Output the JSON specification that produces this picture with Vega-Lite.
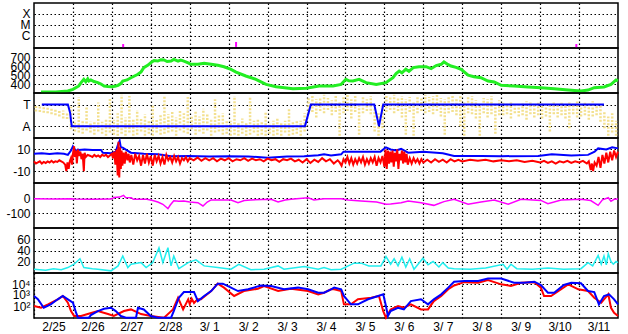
{
"$schema": "https://vega.github.io/schema/vega-lite/v6.json",
"padding": {"left": 3, "top": 2, "right": 5, "bottom": 0},
"spacing": 0,
"bounds": "flush",
"config": {
  "view": {"stroke": "black", "strokeWidth": 1.5},
  "axis": {"labelFont": "Liberation Sans", "labelFontSize": 12, "labelColor": "black", "ticks": false, "domain": false, "title": null, "grid": true, "gridColor": "black", "gridDash": [1.5, 2.5], "gridWidth": 1.2, "gridOpacity": 1, "labelOverlap": false},
  "axisY": {"minExtent": 30, "maxExtent": 30, "labelPadding": 4, "labelOverlap": false},
  "line": {"clip": true, "strokeJoin": "miter"},
  "rule": {"clip": true}
},
"datasets": {
  "flares": [{"d": 2.29, "lo": -0.1, "hi": 0.26}, {"d": 5.19, "lo": 0.0, "hi": 0.45}, {"d": 13.93, "lo": -0.1, "hi": 0.26}],
  "green": [{"d":0.18,"v":316},{"d":0.56,"v":316},{"d":0.87,"v":327},{"d":1.0,"v":346},{"d":1.15,"v":383},{"d":1.21,"v":420},{"d":1.28,"v":457},{"d":1.33,"v":430},{"d":1.38,"v":462},{"d":1.41,"v":438},{"d":1.46,"v":450},{"d":1.54,"v":432},{"d":1.64,"v":420},{"d":1.72,"v":405},{"d":1.8,"v":383},{"d":1.9,"v":378},{"d":1.98,"v":375},{"d":2.08,"v":380},{"d":2.16,"v":390},{"d":2.23,"v":410},{"d":2.28,"v":438},{"d":2.39,"v":450},{"d":2.49,"v":475},{"d":2.67,"v":513},{"d":2.75,"v":540},{"d":2.82,"v":587},{"d":2.93,"v":615},{"d":3.0,"v":642},{"d":3.08,"v":665},{"d":3.18,"v":660},{"d":3.26,"v":675},{"d":3.34,"v":672},{"d":3.42,"v":655},{"d":3.52,"v":660},{"d":3.59,"v":678},{"d":3.7,"v":659},{"d":3.77,"v":670},{"d":3.85,"v":660},{"d":3.96,"v":640},{"d":4.03,"v":624},{"d":4.21,"v":624},{"d":4.37,"v":635},{"d":4.55,"v":624},{"d":4.72,"v":613},{"d":4.88,"v":597},{"d":5.06,"v":568},{"d":5.19,"v":538},{"d":5.44,"v":494},{"d":5.7,"v":457},{"d":5.96,"v":401},{"d":6.22,"v":375},{"d":6.65,"v":353},{"d":6.99,"v":357},{"d":7.32,"v":383},{"d":7.68,"v":383},{"d":7.89,"v":401},{"d":8.01,"v":457},{"d":8.09,"v":440},{"d":8.19,"v":438},{"d":8.35,"v":457},{"d":8.53,"v":420},{"d":8.79,"v":401},{"d":9.04,"v":420},{"d":9.22,"v":475},{"d":9.3,"v":520},{"d":9.38,"v":549},{"d":9.45,"v":530},{"d":9.55,"v":570},{"d":9.63,"v":545},{"d":9.74,"v":587},{"d":9.89,"v":597},{"d":10.07,"v":597},{"d":10.2,"v":575},{"d":10.33,"v":610},{"d":10.46,"v":624},{"d":10.53,"v":650},{"d":10.64,"v":620},{"d":10.71,"v":605},{"d":10.84,"v":590},{"d":10.97,"v":568},{"d":11.15,"v":503},{"d":11.3,"v":486},{"d":11.48,"v":475},{"d":11.66,"v":438},{"d":11.82,"v":427},{"d":12.0,"v":390},{"d":12.33,"v":383},{"d":12.69,"v":372},{"d":13.02,"v":364},{"d":13.36,"v":353},{"d":13.72,"v":338},{"d":14.05,"v":327},{"d":14.23,"v":338},{"d":14.39,"v":364},{"d":14.64,"v":372},{"d":14.82,"v":401},{"d":14.95,"v":450},{"d":15.0,"v":440}],
  "yel": [{"d":0.05,"lo":0.35,"hi":1.0},{"d":0.15,"lo":0.3,"hi":0.85},{"d":0.25,"lo":0.25,"hi":0.9},{"d":0.35,"lo":0.2,"hi":0.75},{"d":0.45,"lo":0.1,"hi":0.7},{"d":0.55,"lo":0.0,"hi":0.6},{"d":0.65,"lo":-0.1,"hi":0.5},{"d":0.75,"lo":-0.3,"hi":0.45},{"d":0.85,"lo":-0.35,"hi":0.3},{"d":0.95,"lo":-1.3,"hi":0.8},
    {"d":1.05,"lo":-1.5,"hi":-0.5},{"d":1.15,"lo":-1.6,"hi":1.7},{"d":1.25,"lo":-1.7,"hi":-0.4},{"d":1.35,"lo":-1.4,"hi":0.8},{"d":1.45,"lo":-1.6,"hi":-0.6},{"d":1.55,"lo":-1.8,"hi":-0.5},{"d":1.65,"lo":-1.5,"hi":1.2},{"d":1.75,"lo":-1.7,"hi":-0.6},{"d":1.85,"lo":-1.9,"hi":-0.3},{"d":1.95,"lo":-1.6,"hi":1.6},
    {"d":2.05,"lo":-1.8,"hi":-0.4},{"d":2.15,"lo":-1.9,"hi":0.2},{"d":2.25,"lo":-1.7,"hi":1.9},{"d":2.35,"lo":-1.9,"hi":-0.2},{"d":2.45,"lo":-1.6,"hi":1.8},{"d":2.55,"lo":-1.9,"hi":-0.3},{"d":2.65,"lo":-1.8,"hi":0.5},{"d":2.75,"lo":-1.5,"hi":-0.2},{"d":2.85,"lo":-1.9,"hi":0.1},{"d":2.95,"lo":-1.7,"hi":-0.5},{"d":3.05,"lo":-1.9,"hi":0.9},{"d":3.15,"lo":-1.6,"hi":-0.3},{"d":3.25,"lo":-1.8,"hi":0.0},
    {"d":3.35,"lo":-1.7,"hi":1.8},{"d":3.45,"lo":-1.6,"hi":0.1},{"d":3.55,"lo":-1.5,"hi":0.3},{"d":3.65,"lo":-1.9,"hi":-0.2},{"d":3.75,"lo":-1.4,"hi":0.5},{"d":3.85,"lo":-1.6,"hi":0.2},{"d":3.95,"lo":-1.7,"hi":1.7},{"d":4.05,"lo":-1.3,"hi":0.0},{"d":4.15,"lo":-1.8,"hi":0.4},{"d":4.25,"lo":-1.5,"hi":-0.1},{"d":4.35,"lo":-1.7,"hi":0.6},{"d":4.45,"lo":-1.4,"hi":0.1},{"d":4.55,"lo":-1.9,"hi":-0.3},{"d":4.65,"lo":-1.6,"hi":1.5},{"d":4.75,"lo":-1.5,"hi":0.0},{"d":4.85,"lo":-1.8,"hi":0.2},{"d":4.95,"lo":-1.7,"hi":-0.4},
    {"d":5.05,"lo":-1.9,"hi":-0.5},{"d":5.15,"lo":-1.8,"hi":1.8},{"d":5.25,"lo":-1.9,"hi":-0.6},{"d":5.35,"lo":-1.7,"hi":-0.3},{"d":5.45,"lo":-1.9,"hi":-0.7},{"d":5.55,"lo":-1.8,"hi":1.7},{"d":5.65,"lo":-1.6,"hi":-0.5},{"d":5.75,"lo":-1.9,"hi":-0.4},{"d":5.85,"lo":-1.8,"hi":-0.6},{"d":5.95,"lo":-1.9,"hi":0.3},{"d":6.05,"lo":-1.7,"hi":-0.7},{"d":6.15,"lo":-1.9,"hi":-0.5},{"d":6.25,"lo":-1.8,"hi":-0.3},{"d":6.35,"lo":-1.9,"hi":-0.6},{"d":6.45,"lo":-1.6,"hi":-0.5},{"d":6.55,"lo":-1.9,"hi":0.6},{"d":6.65,"lo":-1.8,"hi":-0.6},{"d":6.75,"lo":-1.7,"hi":-0.4},{"d":6.85,"lo":-1.9,"hi":-0.5},{"d":6.95,"lo":-1.5,"hi":0.2},
    {"d":7.05,"lo":0.1,"hi":1.6},{"d":7.15,"lo":0.3,"hi":1.8},{"d":7.25,"lo":-0.2,"hi":1.5},{"d":7.35,"lo":0.4,"hi":1.7},{"d":7.45,"lo":0.2,"hi":1.9},{"d":7.55,"lo":0.5,"hi":1.6},{"d":7.65,"lo":0.0,"hi":1.4},{"d":7.75,"lo":0.3,"hi":1.8},{"d":7.85,"lo":-1.9,"hi":1.2},{"d":7.95,"lo":0.2,"hi":1.7},{"d":8.05,"lo":0.4,"hi":1.9},{"d":8.15,"lo":-0.3,"hi":1.5},{"d":8.25,"lo":0.3,"hi":1.8},{"d":8.35,"lo":-1.8,"hi":1.0},{"d":8.45,"lo":0.2,"hi":1.7},{"d":8.55,"lo":0.4,"hi":1.5},{"d":8.65,"lo":0.1,"hi":1.8},
    {"d":8.75,"lo":-1.5,"hi":0.8},{"d":8.85,"lo":-1.9,"hi":0.2},{"d":8.95,"lo":-1.2,"hi":1.1},
    {"d":9.05,"lo":0.3,"hi":1.8},{"d":9.15,"lo":0.5,"hi":1.7},{"d":9.25,"lo":0.2,"hi":1.9},{"d":9.35,"lo":0.4,"hi":1.6},{"d":9.45,"lo":-0.2,"hi":1.8},{"d":9.55,"lo":-1.8,"hi":1.5},{"d":9.65,"lo":0.3,"hi":1.7},{"d":9.75,"lo":-1.9,"hi":1.2},{"d":9.85,"lo":0.2,"hi":1.8},{"d":9.95,"lo":0.4,"hi":1.6},
    {"d":10.05,"lo":0.2,"hi":1.9},{"d":10.15,"lo":0.3,"hi":1.7},{"d":10.25,"lo":0.1,"hi":1.8},{"d":10.35,"lo":0.4,"hi":1.9},{"d":10.45,"lo":-0.1,"hi":1.6},{"d":10.55,"lo":-1.8,"hi":1.5},{"d":10.65,"lo":0.2,"hi":1.7},{"d":10.75,"lo":0.3,"hi":1.9},{"d":10.85,"lo":0.0,"hi":1.6},{"d":10.95,"lo":-1.0,"hi":1.8},{"d":11.05,"lo":-1.9,"hi":1.2},{"d":11.15,"lo":0.2,"hi":1.7},{"d":11.25,"lo":0.1,"hi":1.8},{"d":11.35,"lo":-0.3,"hi":1.4},{"d":11.45,"lo":-1.9,"hi":1.0},{"d":11.55,"lo":0.2,"hi":1.6},{"d":11.65,"lo":-0.2,"hi":1.5},{"d":11.75,"lo":0.1,"hi":1.8},{"d":11.85,"lo":-1.7,"hi":1.2},{"d":11.95,"lo":0.0,"hi":1.4},
    {"d":12.05,"lo":0.0,"hi":1.3},{"d":12.15,"lo":0.1,"hi":1.1},{"d":12.25,"lo":-0.3,"hi":1.3},{"d":12.35,"lo":0.2,"hi":1.0},{"d":12.45,"lo":-0.1,"hi":1.2},{"d":12.55,"lo":0.0,"hi":1.1},{"d":12.65,"lo":-0.4,"hi":1.3},{"d":12.75,"lo":0.1,"hi":1.2},{"d":12.85,"lo":-0.2,"hi":1.0},{"d":12.95,"lo":0.0,"hi":1.3},{"d":13.05,"lo":-0.3,"hi":1.1},{"d":13.15,"lo":-0.1,"hi":1.2},{"d":13.25,"lo":-1.5,"hi":1.0},{"d":13.35,"lo":0.1,"hi":1.2},{"d":13.45,"lo":-0.2,"hi":1.1},{"d":13.55,"lo":0.0,"hi":1.3},{"d":13.65,"lo":-0.3,"hi":1.0},{"d":13.75,"lo":-1.2,"hi":1.2},{"d":13.85,"lo":0.1,"hi":1.1},{"d":13.95,"lo":-0.2,"hi":1.3},{"d":14.05,"lo":-0.1,"hi":1.0},{"d":14.15,"lo":0.0,"hi":1.2},{"d":14.25,"lo":-0.4,"hi":1.1},{"d":14.35,"lo":-0.1,"hi":1.3},{"d":14.45,"lo":0.0,"hi":1.0},{"d":14.55,"lo":-0.6,"hi":0.9},{"d":14.65,"lo":-1.2,"hi":0.3},{"d":14.75,"lo":-1.9,"hi":-0.1},{"d":14.85,"lo":-1.6,"hi":0.2},{"d":14.95,"lo":-1.9,"hi":-0.5}],
  "ta": [{"d":0.2,"v":1},{"d":0.87,"v":1},{"d":0.9,"v":0.6},{"d":0.93,"v":0.2},{"d":0.95,"v":-0.5},{"d":0.97,"v":-1},{"d":6.96,"v":-1},{"d":7.11,"v":1},{"d":8.74,"v":1},{"d":8.86,"v":-1},{"d":8.97,"v":1},{"d":14.64,"v":1}],
  "bt": [{"d":0,"v":6},{"d":0.2,"v":6.5},{"d":0.4,"v":5.8},{"d":0.6,"v":6.5},{"d":0.77,"v":6},{"d":0.87,"v":5},{"d":0.95,"v":9},{"d":1.0,"v":12.8},{"d":1.03,"v":11},{"d":1.08,"v":8.6},{"d":1.13,"v":10},{"d":1.15,"v":9.5},{"d":1.3,"v":10},{"d":1.5,"v":9.5},{"d":1.72,"v":9.5},{"d":1.77,"v":7},{"d":1.98,"v":6.5},{"d":2.1,"v":8},{"d":2.16,"v":14.8},{"d":2.2,"v":18},{"d":2.23,"v":12},{"d":2.28,"v":11.7},{"d":2.4,"v":9},{"d":2.49,"v":7},{"d":2.82,"v":6},{"d":3.18,"v":5.5},{"d":3.52,"v":3.7},{"d":3.96,"v":4},{"d":4.5,"v":3.5},{"d":5.0,"v":3.7},{"d":5.5,"v":3.5},{"d":6.0,"v":2.4},{"d":6.5,"v":3.5},{"d":6.94,"v":3.7},{"d":7.3,"v":4.6},{"d":7.45,"v":5.5},{"d":7.63,"v":4.5},{"d":7.89,"v":5.5},{"d":7.95,"v":8},{"d":8.4,"v":8},{"d":8.9,"v":8},{"d":9.04,"v":12},{"d":9.16,"v":10},{"d":9.3,"v":9},{"d":9.43,"v":10.5},{"d":9.61,"v":7},{"d":10.0,"v":8},{"d":10.5,"v":6.5},{"d":10.79,"v":4},{"d":11.5,"v":4},{"d":12.0,"v":3.8},{"d":12.95,"v":4},{"d":13.3,"v":5.5},{"d":13.8,"v":4.5},{"d":14.23,"v":5},{"d":14.4,"v":8},{"d":14.49,"v":11},{"d":14.7,"v":10},{"d":14.85,"v":12},{"d":15.0,"v":11}],
  "bz": [{"d":0,"v":-1},{"d":0.05,"v":-3},{"d":0.1,"v":-2},{"d":0.15,"v":-1},{"d":0.2,"v":-3},{"d":0.25,"v":-1.5},{"d":0.3,"v":-2.5},{"d":0.35,"v":-1},{"d":0.4,"v":-2},{"d":0.45,"v":-0.5},{"d":0.5,"v":-2},{"d":0.55,"v":-1},{"d":0.6,"v":-1.5},{"d":0.65,"v":0},{"d":0.7,"v":-1},{"d":0.75,"v":-2},{"d":0.8,"v":-4},{"d":0.83,"v":-10},{"d":0.86,"v":-2},{"d":0.89,"v":-8},{"d":0.92,"v":-1},{"d":0.95,"v":2},{"d":0.98,"v":-4},{"d":1.0,"v":6},{"d":1.03,"v":13},{"d":1.05,"v":3},{"d":1.08,"v":9},{"d":1.1,"v":-3},{"d":1.13,"v":10},{"d":1.16,"v":4},{"d":1.19,"v":8},{"d":1.22,"v":1},{"d":1.25,"v":6},{"d":1.28,"v":-10},{"d":1.3,"v":7},{"d":1.33,"v":3},{"d":1.38,"v":5},{"d":1.45,"v":4},{"d":1.5,"v":3},{"d":1.55,"v":5},{"d":1.6,"v":3.5},{"d":1.65,"v":4.5},{"d":1.7,"v":3},{"d":1.75,"v":5},{"d":1.8,"v":4},{"d":1.85,"v":5},{"d":1.9,"v":3},{"d":1.95,"v":4.5},{"d":2.0,"v":6},{"d":2.03,"v":2},{"d":2.06,"v":8},{"d":2.09,"v":-4},{"d":2.12,"v":10},{"d":2.15,"v":-14},{"d":2.17,"v":17},{"d":2.19,"v":-16},{"d":2.21,"v":12},{"d":2.23,"v":-8},{"d":2.25,"v":9},{"d":2.27,"v":-5},{"d":2.3,"v":7},{"d":2.33,"v":-3},{"d":2.36,"v":8},{"d":2.4,"v":0},{"d":2.43,"v":6},{"d":2.46,"v":-2},{"d":2.5,"v":5},{"d":2.55,"v":-4},{"d":2.6,"v":6},{"d":2.65,"v":0},{"d":2.7,"v":4},{"d":2.75,"v":-5},{"d":2.8,"v":5},{"d":2.85,"v":-3},{"d":2.9,"v":6},{"d":2.95,"v":-2},{"d":3.0,"v":4},{"d":3.05,"v":-5},{"d":3.1,"v":5},{"d":3.15,"v":-1},{"d":3.2,"v":4},{"d":3.25,"v":-3},{"d":3.3,"v":3},{"d":3.35,"v":-4},{"d":3.4,"v":5},{"d":3.45,"v":0},{"d":3.5,"v":3},{"d":3.55,"v":-2},{"d":3.6,"v":4},{"d":3.65,"v":-1},{"d":3.7,"v":3},{"d":3.75,"v":-3},{"d":3.8,"v":2},{"d":3.85,"v":0},{"d":3.9,"v":3},{"d":3.95,"v":-1},{"d":4.0,"v":2},{"d":4.1,"v":0},{"d":4.2,"v":2.5},{"d":4.3,"v":-0.5},{"d":4.4,"v":2},{"d":4.5,"v":0},{"d":4.6,"v":2},{"d":4.7,"v":-1},{"d":4.8,"v":1.5},{"d":4.9,"v":0},{"d":5.0,"v":2},{"d":5.1,"v":-1},{"d":5.2,"v":1},{"d":5.3,"v":0},{"d":5.4,"v":2},{"d":5.5,"v":-0.5},{"d":5.6,"v":1.5},{"d":5.7,"v":0},{"d":5.8,"v":1},{"d":5.9,"v":-1},{"d":6.0,"v":1.5},{"d":6.1,"v":0},{"d":6.2,"v":1},{"d":6.3,"v":-1.5},{"d":6.4,"v":1},{"d":6.5,"v":0},{"d":6.6,"v":1.5},{"d":6.7,"v":-1},{"d":6.8,"v":0.5},{"d":6.9,"v":-2},{"d":7.0,"v":1},{"d":7.1,"v":-2.5},{"d":7.2,"v":0.5},{"d":7.3,"v":-1.5},{"d":7.4,"v":2},{"d":7.5,"v":-1},{"d":7.6,"v":1},{"d":7.7,"v":-3},{"d":7.8,"v":0},{"d":7.85,"v":-2},{"d":7.9,"v":-5},{"d":7.95,"v":1},{"d":8.0,"v":-2},{"d":8.05,"v":3},{"d":8.1,"v":-3},{"d":8.15,"v":2},{"d":8.2,"v":-4},{"d":8.25,"v":1},{"d":8.3,"v":-3},{"d":8.35,"v":2},{"d":8.4,"v":-2},{"d":8.45,"v":3},{"d":8.5,"v":-4},{"d":8.55,"v":1},{"d":8.6,"v":-3},{"d":8.65,"v":2},{"d":8.7,"v":-2},{"d":8.75,"v":3},{"d":8.8,"v":-5},{"d":8.85,"v":2},{"d":8.9,"v":-2},{"d":8.95,"v":4},{"d":9.0,"v":-6},{"d":9.03,"v":10},{"d":9.06,"v":-8},{"d":9.09,"v":9},{"d":9.12,"v":-3},{"d":9.15,"v":8},{"d":9.18,"v":-2},{"d":9.21,"v":9},{"d":9.24,"v":-6},{"d":9.27,"v":7},{"d":9.3,"v":-1},{"d":9.33,"v":10},{"d":9.36,"v":-8},{"d":9.39,"v":6},{"d":9.42,"v":0},{"d":9.45,"v":9},{"d":9.48,"v":-3},{"d":9.51,"v":8},{"d":9.54,"v":-2},{"d":9.57,"v":6},{"d":9.6,"v":-4},{"d":9.65,"v":2},{"d":9.7,"v":-3},{"d":9.75,"v":2},{"d":9.8,"v":-2},{"d":9.85,"v":1},{"d":9.9,"v":-3},{"d":9.95,"v":1},{"d":10.0,"v":-2},{"d":10.1,"v":0.5},{"d":10.2,"v":-2},{"d":10.3,"v":1},{"d":10.4,"v":-1.5},{"d":10.5,"v":0.5},{"d":10.6,"v":-2},{"d":10.7,"v":1},{"d":10.8,"v":-1},{"d":10.9,"v":0.5},{"d":11.0,"v":-1},{"d":11.2,"v":0.5},{"d":11.4,"v":-0.5},{"d":11.6,"v":0.5},{"d":11.8,"v":-1},{"d":12.0,"v":0},{"d":12.2,"v":-1},{"d":12.4,"v":0},{"d":12.6,"v":-1.5},{"d":12.8,"v":-0.5},{"d":13.0,"v":-2},{"d":13.1,"v":-0.5},{"d":13.2,"v":-2.5},{"d":13.3,"v":-1},{"d":13.4,"v":-3},{"d":13.5,"v":-1},{"d":13.6,"v":-2},{"d":13.7,"v":-0.5},{"d":13.8,"v":-2.5},{"d":13.9,"v":-1},{"d":14.0,"v":-2},{"d":14.1,"v":-0.5},{"d":14.2,"v":-3},{"d":14.25,"v":-1},{"d":14.3,"v":-9},{"d":14.33,"v":-3},{"d":14.36,"v":-10},{"d":14.4,"v":-2},{"d":14.45,"v":-5},{"d":14.5,"v":3},{"d":14.55,"v":-7},{"d":14.6,"v":5},{"d":14.65,"v":-3},{"d":14.7,"v":7},{"d":14.75,"v":-2},{"d":14.8,"v":8},{"d":14.85,"v":0},{"d":14.9,"v":9},{"d":14.95,"v":3},{"d":15.0,"v":8}],
  "dst": [{"d":0,"v":-3},{"d":0.5,"v":-4},{"d":0.95,"v":-3},{"d":1.03,"v":-5},{"d":1.5,"v":-6},{"d":1.98,"v":-5},{"d":2.05,"v":5},{"d":2.2,"v":8},{"d":2.3,"v":20},{"d":2.35,"v":6},{"d":2.5,"v":4},{"d":2.55,"v":-7},{"d":2.9,"v":-7},{"d":3.05,"v":-15},{"d":3.18,"v":-25},{"d":3.31,"v":-40},{"d":3.4,"v":-60},{"d":3.44,"v":-69},{"d":3.5,"v":-45},{"d":3.59,"v":-16},{"d":3.72,"v":-20},{"d":3.85,"v":-18},{"d":4.0,"v":-25},{"d":4.21,"v":-29},{"d":4.34,"v":-51},{"d":4.45,"v":-25},{"d":4.55,"v":-11},{"d":5.06,"v":-11},{"d":5.24,"v":-29},{"d":5.4,"v":-15},{"d":5.57,"v":-11},{"d":6.09,"v":-7},{"d":6.27,"v":-24},{"d":6.45,"v":-12},{"d":6.6,"v":-7},{"d":7.04,"v":4},{"d":7.19,"v":-11},{"d":7.45,"v":-3},{"d":7.89,"v":-3},{"d":8.07,"v":-11},{"d":8.4,"v":-18},{"d":8.8,"v":-25},{"d":9.04,"v":-40},{"d":9.16,"v":-38},{"d":9.43,"v":-29},{"d":9.61,"v":-18},{"d":9.94,"v":-29},{"d":10.27,"v":-47},{"d":10.4,"v":-35},{"d":10.53,"v":-22},{"d":10.79,"v":-7},{"d":11.15,"v":-40},{"d":11.48,"v":-24},{"d":11.82,"v":-11},{"d":12.18,"v":-40},{"d":12.51,"v":-7},{"d":13.02,"v":-14},{"d":13.2,"v":-36},{"d":13.54,"v":-11},{"d":14.05,"v":-7},{"d":14.3,"v":-15},{"d":14.49,"v":-47},{"d":14.6,"v":-10},{"d":14.75,"v":4},{"d":14.82,"v":-20},{"d":14.9,"v":-7},{"d":15.0,"v":-5}],
  "cy": [{"d":0,"v":6},{"d":0.3,"v":4},{"d":0.5,"v":7},{"d":0.7,"v":5},{"d":0.87,"v":9},{"d":1.03,"v":15},{"d":1.18,"v":25},{"d":1.28,"v":9},{"d":1.5,"v":7},{"d":1.64,"v":6},{"d":1.98,"v":3},{"d":2.16,"v":12},{"d":2.28,"v":30},{"d":2.41,"v":9},{"d":2.49,"v":15},{"d":2.75,"v":18},{"d":2.88,"v":9},{"d":3.05,"v":18},{"d":3.21,"v":45},{"d":3.31,"v":18},{"d":3.44,"v":45},{"d":3.52,"v":12},{"d":3.59,"v":30},{"d":3.72,"v":7},{"d":3.96,"v":18},{"d":4.16,"v":23},{"d":4.37,"v":12},{"d":4.72,"v":9},{"d":5.06,"v":6},{"d":5.26,"v":15},{"d":5.57,"v":5},{"d":5.91,"v":6},{"d":6.27,"v":12},{"d":6.42,"v":6},{"d":6.94,"v":11},{"d":7.3,"v":6},{"d":7.45,"v":9},{"d":7.63,"v":5},{"d":7.89,"v":6},{"d":8.22,"v":17},{"d":8.4,"v":17},{"d":8.6,"v":12},{"d":8.91,"v":12},{"d":9.04,"v":29},{"d":9.16,"v":15},{"d":9.25,"v":25},{"d":9.35,"v":12},{"d":9.45,"v":28},{"d":9.55,"v":10},{"d":9.65,"v":25},{"d":9.76,"v":6},{"d":9.99,"v":26},{"d":10.12,"v":14},{"d":10.25,"v":20},{"d":10.4,"v":10},{"d":10.5,"v":18},{"d":10.64,"v":8},{"d":10.79,"v":7},{"d":11.2,"v":6},{"d":11.6,"v":8},{"d":12.05,"v":15},{"d":12.15,"v":6},{"d":12.25,"v":15},{"d":12.4,"v":7},{"d":12.8,"v":6},{"d":13.2,"v":8},{"d":13.6,"v":6},{"d":14.05,"v":7},{"d":14.23,"v":18},{"d":14.35,"v":12},{"d":14.49,"v":31},{"d":14.57,"v":15},{"d":14.64,"v":30},{"d":14.7,"v":14},{"d":14.75,"v":34},{"d":14.82,"v":20},{"d":14.88,"v":15},{"d":14.95,"v":20},{"d":15.0,"v":18}],
  "eb": [{"d":0,"v":2.94},{"d":0.1,"v":2.64},{"d":0.25,"v":1.87},{"d":0.43,"v":2.18},{"d":0.61,"v":2.64},{"d":0.74,"v":2.94},{"d":0.87,"v":2.64},{"d":1.0,"v":2.33},{"d":1.08,"v":1.42},{"d":1.13,"v":0.97},{"d":1.41,"v":0.97},{"d":1.46,"v":1.2},{"d":1.64,"v":1.57},{"d":1.8,"v":1.78},{"d":1.98,"v":1.87},{"d":2.1,"v":1.57},{"d":2.23,"v":1.12},{"d":2.36,"v":0.97},{"d":2.62,"v":0.97},{"d":2.67,"v":1.87},{"d":2.82,"v":1.72},{"d":3.0,"v":1.12},{"d":3.18,"v":0.97},{"d":3.52,"v":0.97},{"d":3.59,"v":1.57},{"d":3.72,"v":2.78},{"d":3.85,"v":3.3},{"d":4.11,"v":3.3},{"d":4.21,"v":2.48},{"d":4.37,"v":2.94},{"d":4.55,"v":3.39},{"d":4.72,"v":4.06},{"d":4.85,"v":4.06},{"d":5.06,"v":3.7},{"d":5.24,"v":3.39},{"d":5.5,"v":3.55},{"d":5.83,"v":3.9},{"d":6.09,"v":3.85},{"d":6.42,"v":3.55},{"d":6.78,"v":3.7},{"d":7.04,"v":3.55},{"d":7.3,"v":3.24},{"d":7.45,"v":3.24},{"d":7.63,"v":3.55},{"d":7.71,"v":3.7},{"d":7.89,"v":3.55},{"d":7.96,"v":2.94},{"d":8.14,"v":2.18},{"d":8.32,"v":2.18},{"d":8.58,"v":2.64},{"d":8.84,"v":2.94},{"d":8.97,"v":3.09},{"d":9.04,"v":2.03},{"d":9.09,"v":1.12},{"d":9.16,"v":1.57},{"d":9.35,"v":1.87},{"d":9.5,"v":1.72},{"d":9.68,"v":2.48},{"d":9.94,"v":2.64},{"d":10.12,"v":2.18},{"d":10.27,"v":2.64},{"d":10.46,"v":3.09},{"d":10.64,"v":3.7},{"d":10.79,"v":4.24},{"d":11.05,"v":4.3},{"d":11.41,"v":4.3},{"d":11.66,"v":4.52},{"d":12.0,"v":4.52},{"d":12.33,"v":4.15},{"d":12.59,"v":4.15},{"d":12.85,"v":4.24},{"d":13.02,"v":3.94},{"d":13.2,"v":3.24},{"d":13.36,"v":3.24},{"d":13.61,"v":3.94},{"d":13.8,"v":4.15},{"d":14.05,"v":4.09},{"d":14.23,"v":3.39},{"d":14.39,"v":3.3},{"d":14.51,"v":2.18},{"d":14.64,"v":2.94},{"d":14.77,"v":3.09},{"d":14.9,"v":2.64},{"d":15.0,"v":2.18}],
  "er": [{"d":0,"v":2.03},{"d":0.18,"v":1.87},{"d":0.36,"v":2.18},{"d":0.61,"v":2.64},{"d":0.74,"v":2.94},{"d":0.87,"v":2.33},{"d":0.95,"v":1.57},{"d":1.03,"v":1.12},{"d":1.21,"v":1.12},{"d":1.38,"v":1.3},{"d":1.64,"v":1.57},{"d":1.9,"v":1.3},{"d":2.05,"v":1.12},{"d":2.31,"v":1.57},{"d":2.49,"v":1.72},{"d":2.75,"v":1.3},{"d":3.0,"v":1.12},{"d":3.34,"v":0.97},{"d":3.57,"v":1.72},{"d":3.7,"v":2.78},{"d":3.83,"v":1.72},{"d":3.96,"v":2.64},{"d":4.0,"v":2.2},{"d":4.05,"v":2.7},{"d":4.11,"v":2.3},{"d":4.2,"v":2.64},{"d":4.29,"v":2.64},{"d":4.55,"v":3.39},{"d":4.72,"v":4.06},{"d":4.88,"v":3.7},{"d":5.14,"v":2.94},{"d":5.39,"v":3.39},{"d":5.75,"v":3.6},{"d":5.91,"v":3.85},{"d":6.27,"v":3.39},{"d":6.6,"v":3.6},{"d":7.04,"v":3.39},{"d":7.3,"v":3.09},{"d":7.45,"v":3.24},{"d":7.63,"v":3.55},{"d":7.71,"v":3.55},{"d":7.89,"v":3.39},{"d":7.96,"v":2.18},{"d":8.14,"v":2.18},{"d":8.32,"v":2.64},{"d":8.66,"v":2.78},{"d":8.86,"v":2.94},{"d":8.97,"v":1.57},{"d":9.04,"v":0.97},{"d":9.16,"v":1.72},{"d":9.35,"v":2.03},{"d":9.5,"v":1.87},{"d":9.68,"v":2.18},{"d":9.94,"v":1.72},{"d":10.12,"v":1.72},{"d":10.27,"v":2.48},{"d":10.46,"v":2.94},{"d":10.64,"v":3.55},{"d":10.79,"v":3.9},{"d":11.05,"v":4.2},{"d":11.41,"v":4.15},{"d":11.66,"v":4.4},{"d":12.0,"v":4.0},{"d":12.25,"v":3.85},{"d":12.51,"v":4.15},{"d":12.85,"v":4.2},{"d":13.02,"v":3.7},{"d":13.1,"v":2.94},{"d":13.28,"v":2.94},{"d":13.54,"v":3.55},{"d":13.72,"v":4.0},{"d":13.98,"v":3.55},{"d":14.23,"v":3.39},{"d":14.39,"v":2.78},{"d":14.57,"v":2.33},{"d":14.75,"v":3.09},{"d":14.82,"v":1.87},{"d":14.9,"v":1.42},{"d":15.0,"v":1.12}],
  "decade": [{"d": 0, "v": 3, "t": "10\u00b3"}]
},
"vconcat": [
  {"width": 584, "height": 45,
   "layer": [
     {"data": {"name": "flares"}, "mark": {"type": "rule", "color": "#ff00ff", "strokeWidth": 2},
      "encoding": {
        "x": {"field": "d", "type": "quantitative", "scale": {"domain": [0, 15], "nice": false, "zero": false}, "axis": {"values": [1,2,3,4,5,6,7,8,9,10,11,12,13,14], "labels": false, "minExtent": 0, "maxExtent": 0}},
        "y": {"field": "lo", "type": "quantitative", "scale": {"domain": [-0.1, 4], "nice": false, "zero": false}, "axis": {"values": [1, 2, 3], "labelOverlap": false, "labelExpr": "datum.value == 3 ? 'X' : datum.value == 2 ? 'M' : 'C'"}},
        "y2": {"field": "hi"}}}
   ]},
  {"width": 584, "height": 45,
   "layer": [
     {"data": {"name": "green"}, "mark": {"type": "line", "color": "#22ee22", "strokeWidth": 3},
      "encoding": {
        "x": {"field": "d", "type": "quantitative", "scale": {"domain": [0, 15], "nice": false, "zero": false}, "axis": {"values": [1,2,3,4,5,6,7,8,9,10,11,12,13,14], "labels": false, "minExtent": 0, "maxExtent": 0}},
        "y": {"field": "v", "type": "quantitative", "scale": {"domain": [305, 805], "nice": false, "zero": false}, "axis": {"values": [400, 500, 600, 700], "labelOverlap": false}}}}
   ]},
  {"width": 584, "height": 45,
   "layer": [
     {"data": {"name": "yel"}, "mark": {"type": "rule", "color": "#f3e08e", "strokeWidth": 2.5, "strokeDash": [2, 1.5]},
      "encoding": {
        "x": {"field": "d", "type": "quantitative", "scale": {"domain": [0, 15], "nice": false, "zero": false}, "axis": {"values": [1,2,3,4,5,6,7,8,9,10,11,12,13,14], "labels": false, "minExtent": 0, "maxExtent": 0}},
        "y": {"field": "lo", "type": "quantitative", "scale": {"domain": [-2.1, 2.07], "nice": false, "zero": false}, "axis": {"values": [-1, 1], "labelOverlap": false, "labelExpr": "datum.value > 0 ? 'T' : 'A'"}},
        "y2": {"field": "hi"}}},
     {"mark": {"type": "rule", "color": "#b00000", "strokeWidth": 1.5}, "encoding": {"y": {"datum": 0}}},
     {"data": {"name": "ta"}, "mark": {"type": "line", "color": "#0000ff", "strokeWidth": 2},
      "encoding": {"x": {"field": "d", "type": "quantitative"}, "y": {"field": "v", "type": "quantitative"}}}
   ]},
  {"width": 584, "height": 45,
   "layer": [
     {"data": {"name": "bt"}, "mark": {"type": "line", "color": "#0000ff", "strokeWidth": 2},
      "encoding": {
        "x": {"field": "d", "type": "quantitative", "scale": {"domain": [0, 15], "nice": false, "zero": false}, "axis": {"values": [1,2,3,4,5,6,7,8,9,10,11,12,13,14], "labels": false, "minExtent": 0, "maxExtent": 0}},
        "y": {"field": "v", "type": "quantitative", "scale": {"domain": [-21, 20.6], "nice": false, "zero": false}, "axis": {"values": [-10, 0, 10], "labelOverlap": false, "labelExpr": "'' + datum.value"}}}},
     {"mark": {"type": "rule", "color": "#b00000", "strokeWidth": 1.5}, "encoding": {"y": {"datum": 0}}},
     {"data": {"name": "bz"}, "mark": {"type": "line", "color": "#ff0000", "strokeWidth": 2},
      "encoding": {"x": {"field": "d", "type": "quantitative"}, "y": {"field": "v", "type": "quantitative"}}}
   ]},
  {"width": 584, "height": 45,
   "layer": [
     {"data": {"name": "dst"}, "mark": {"type": "line", "color": "#ff00ff", "strokeWidth": 1.5},
      "encoding": {
        "x": {"field": "d", "type": "quantitative", "scale": {"domain": [0, 15], "nice": false, "zero": false}, "axis": {"values": [1,2,3,4,5,6,7,8,9,10,11,12,13,14], "labels": false, "minExtent": 0, "maxExtent": 0}},
        "y": {"field": "v", "type": "quantitative", "scale": {"domain": [-198, 102], "nice": false, "zero": false}, "axis": {"values": [-100, 0], "labelOverlap": false, "labelExpr": "'' + datum.value"}}}},
     {"mark": {"type": "rule", "color": "#b00000", "strokeWidth": 1.5}, "encoding": {"y": {"datum": 0}}}
   ]},
  {"width": 584, "height": 45,
   "layer": [
     {"data": {"name": "cy"}, "mark": {"type": "line", "color": "#22eeee", "strokeWidth": 1.5},
      "encoding": {
        "x": {"field": "d", "type": "quantitative", "scale": {"domain": [0, 15], "nice": false, "zero": false}, "axis": {"values": [1,2,3,4,5,6,7,8,9,10,11,12,13,14], "labels": false, "minExtent": 0, "maxExtent": 0}},
        "y": {"field": "v", "type": "quantitative", "scale": {"domain": [-0.9, 80.9], "nice": false, "zero": false}, "axis": {"values": [20, 40, 60], "labelOverlap": false}}}}
   ]},
  {"width": 584, "height": 45,
   "layer": [
     {"data": {"name": "er"}, "mark": {"type": "line", "color": "#ff0000", "strokeWidth": 2},
      "encoding": {
        "x": {"field": "d", "type": "quantitative", "scale": {"domain": [0, 15], "nice": false, "zero": false}, "axis": {"values": [0,1,2,3,4,5,6,7,8,9,10,11,12,13,14], "labelOffset": 19.46, "labelPadding": 3, "labelOverlap": false, "labelBound": false, "labelFlush": false, "labelExpr": "['2/25','2/26','2/27','2/28','3/ 1','3/ 2','3/ 3','3/ 4','3/ 5','3/ 6','3/ 7','3/ 8','3/ 9','3/10','3/11'][datum.value]"}},
        "y": {"field": "v", "type": "quantitative", "scale": {"domain": [0.94, 5.03], "nice": false, "zero": false}, "axis": {"values": [2, 3, 4], "labelOverlap": false, "labelExpr": "datum.value == 3 ? '' : '10' + ['', '', '\u00b2', '\u00b3', '\u2074'][round(datum.value)]"}}}},
     {"mark": {"type": "rule", "color": "#cc0000", "strokeWidth": 1.5, "strokeDash": [9, 3, 2, 3]}, "encoding": {"y": {"datum": 4}}},
     {"data": {"name": "eb"}, "mark": {"type": "line", "color": "#0000ff", "strokeWidth": 2},
      "encoding": {"x": {"field": "d", "type": "quantitative"}, "y": {"field": "v", "type": "quantitative"}}},
     {"data": {"name": "decade"}, "mark": {"type": "text", "align": "right", "baseline": "middle", "dx": -4, "font": "Liberation Sans", "fontSize": 12, "color": "black", "clip": false},
      "encoding": {"x": {"field": "d", "type": "quantitative"}, "y": {"field": "v", "type": "quantitative"}, "text": {"field": "t"}}}
   ]}
]
}
